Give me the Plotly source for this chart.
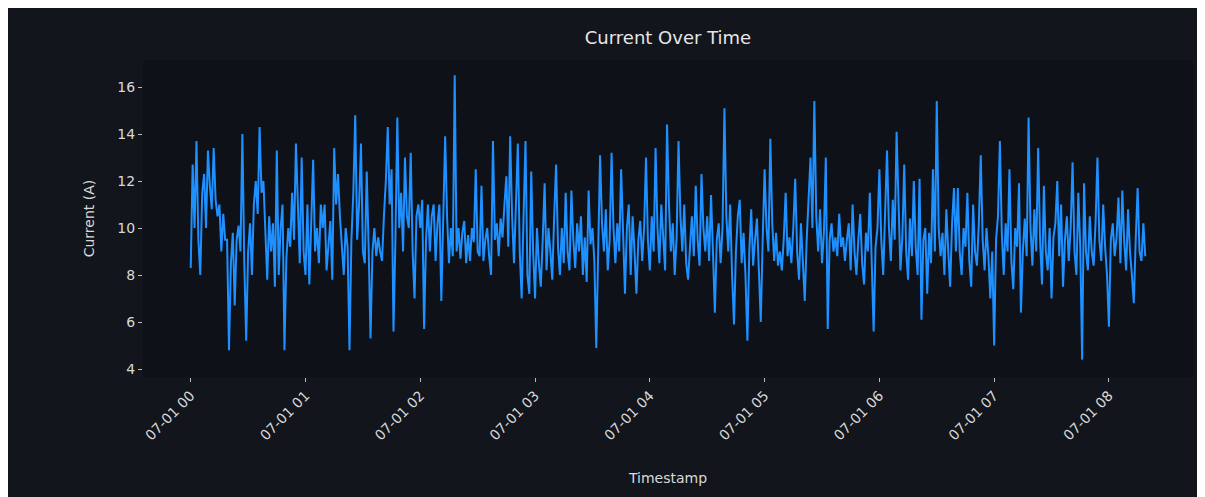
import pandas as pd
import plotly.graph_objects as go

# Current readings (A), one per minute starting 07-01 00:00
seg_a = [8.3, 12.7, 10.0, 13.7, 9.5, 8.0, 11.5, 12.3, 10.0, 13.3,
         11.8, 10.8, 13.4, 11.2, 10.5, 11.0, 9.0, 10.6, 9.5, 9.5,
         4.8, 8.5, 9.8, 6.7, 9.5, 10.1, 9.0, 14.0, 8.5, 5.2,
         9.0, 10.2, 8.0, 11.0, 12.0, 10.6, 14.3, 11.5, 12.0, 9.5,
         7.8, 10.5, 9.0, 10.2, 7.5, 13.3, 8.0, 10.0, 11.0, 4.8,
         8.7, 10.0, 9.2, 11.5, 9.5, 13.6, 10.5, 8.5]
seg_b = [13.0, 9.0, 8.0, 11.0, 7.6, 10.5, 12.9, 9.0, 10.0, 8.5,
         11.0, 10.0, 11.0, 8.2, 9.5, 10.3, 7.8, 13.4, 11.0, 12.3,
         10.5, 9.0, 8.0, 10.0, 9.2, 4.8, 9.5, 11.5, 14.8, 9.5,
         11.0, 13.6, 9.0, 8.5, 12.4, 9.2, 5.3, 9.0, 10.0, 8.8,
         9.6, 9.0, 8.6, 10.5, 12.0, 14.3, 11.0, 12.5, 5.6, 9.5,
         14.7, 10.0, 11.5, 9.0, 13.0, 10.5, 10.0]
seg_c = [13.2, 9.0, 7.0, 10.5, 11.0, 10.0, 11.2, 5.7, 9.5, 11.0,
         9.0, 10.5, 11.0, 8.6, 10.2, 11.0, 6.9, 10.0, 13.9, 10.5,
         8.5, 10.0, 8.8, 16.5, 9.0, 10.0, 8.7, 9.8, 10.3, 8.5,
         9.7, 8.6, 10.0, 9.4, 12.5, 9.0, 8.8, 11.8, 8.6, 9.5,
         10.0, 8.8, 8.0, 13.7, 9.5, 10.2, 8.8, 10.4, 9.6, 11.0,
         12.2, 9.2, 13.9, 10.5, 8.5, 11.0, 13.6, 9.0]
seg_d = [7.0, 10.5, 13.7, 8.0, 7.2, 12.4, 9.0, 7.0, 10.0, 8.5,
         7.5, 9.5, 11.9, 8.2, 10.0, 9.0, 7.8, 10.5, 12.7, 9.2,
         8.0, 10.0, 8.5, 11.5, 9.0, 8.2, 11.6, 9.5, 8.3, 10.2,
         9.0, 10.5, 8.0, 9.6, 7.7, 11.6, 9.3, 10.0, 8.6, 4.9,
         9.0, 13.1, 10.2, 9.0, 10.8, 8.2, 9.5, 13.2, 10.0, 8.5,
         10.2, 9.0, 12.5, 9.2, 7.2, 10.0, 11.0]
seg_e = [8.0, 10.5, 9.0, 7.2, 9.5, 10.3, 8.6, 10.0, 13.0, 9.5,
         8.2, 10.5, 9.0, 13.4, 10.0, 8.5, 11.0, 9.5, 8.2, 14.4,
         11.0, 9.0, 10.2, 8.0, 9.6, 13.7, 10.5, 9.0, 11.0, 8.5,
         7.8, 9.2, 10.5, 8.8, 11.8, 9.5, 8.4, 12.3, 10.0, 9.0,
         10.5, 8.6, 11.4, 9.0, 6.4, 9.5, 10.2, 8.5, 10.0, 15.1,
         10.5, 9.0, 11.0, 8.0, 5.9, 9.0, 10.5]
seg_f = [11.2, 8.5, 9.8, 8.0, 5.2, 9.0, 10.8, 8.4, 9.5, 10.4,
         8.2, 6.0, 9.5, 12.5, 10.0, 9.0, 13.8, 10.2, 8.6, 9.8,
         8.4, 9.0, 8.2, 9.5, 11.5, 8.8, 9.6, 8.5, 10.0, 12.1,
         9.0, 7.8, 10.2, 8.8, 6.9, 9.5, 11.0, 13.0, 10.0, 15.4,
         10.5, 9.0, 10.8, 8.5, 9.8, 13.0, 5.7, 9.5, 10.2, 9.0,
         9.6, 8.8, 10.6, 9.2, 9.6, 8.6, 9.5]
seg_g = [10.2, 8.2, 11.0, 9.0, 8.0, 9.5, 10.6, 8.5, 7.6, 9.8,
         9.0, 11.5, 8.4, 5.6, 9.2, 10.0, 12.5, 9.5, 8.0, 10.5,
         13.3, 10.0, 8.6, 11.2, 9.5, 14.1, 10.5, 8.2, 9.6, 12.7,
         9.0, 7.8, 10.4, 8.8, 12.0, 9.2, 8.0, 12.1, 6.1, 9.5,
         10.0, 7.2, 9.8, 8.5, 12.5, 9.0, 15.4, 10.0, 8.8, 9.8,
         8.0, 10.8, 9.0, 7.5, 10.2, 11.7, 9.0]
seg_h = [11.7, 9.0, 8.0, 10.0, 9.2, 11.5, 8.6, 7.5, 11.0, 9.0,
         8.4, 10.2, 13.1, 9.5, 8.2, 10.0, 8.8, 7.0, 9.0, 5.0,
         9.5, 10.5, 13.7, 9.8, 8.0, 10.2, 9.0, 12.5, 8.6, 7.4,
         10.0, 9.2, 11.9, 6.4, 9.0, 10.4, 8.8, 14.7, 10.0, 8.4,
         10.8, 9.0, 13.4, 9.5, 7.6, 11.8, 9.0, 8.2, 10.0, 7.0,
         9.6, 10.2, 12.0, 8.8, 11.0, 7.5, 9.5, 10.5]
seg_i = [8.6, 10.0, 12.8, 9.0, 8.0, 11.5, 9.2, 4.4, 11.9, 9.0,
         8.2, 10.5, 9.0, 8.4, 10.2, 13.0, 9.5, 8.6, 11.0, 9.2,
         8.0, 5.8, 9.5, 10.2, 8.8, 9.6, 11.3, 8.5, 11.6, 9.4,
         8.2, 10.8, 9.0, 8.0, 6.8, 9.5, 11.7, 9.0, 8.6, 10.2,
         8.8]

current = seg_a + seg_b + seg_c + seg_d + seg_e + seg_f + seg_g + seg_h + seg_i
timestamps = pd.date_range("2024-07-01 00:00", periods=len(current), freq="min")

y_ticks = [4, 6, 8, 10, 12, 14, 16]
title_text = "Current Over Time"
x_title = "Timestamp"
y_title = "Current (A)"

fig = go.Figure()
fig.add_trace(go.Scatter(x=timestamps, y=current, mode="lines",
                         line=dict(color="#1e90ff", width=2),
                         showlegend=False))

span = timestamps[-1] - timestamps[0]
x_range = [timestamps[0] - span * 0.05, timestamps[-1] + span * 0.05]

W, H = 1197, 489
txt = "#d9d9d9"
fig.update_layout(
    width=W, height=H,
    margin=dict(l=135, r=12, t=52, b=120),
    paper_bgcolor="#12151c",
    plot_bgcolor="#0e1117",
    font=dict(family="DejaVu Sans", color=txt, size=14),
    title=dict(text=title_text, x=0.5, xref="paper", xanchor="center",
               y=1 - 30 / H, yref="container", yanchor="middle",
               font=dict(size=18, color="#e6e6e6")),
    xaxis=dict(range=x_range, showgrid=False, zeroline=False,
               tickformat="%m-%d %H", dtick=3600000,
               tick0=timestamps[0],
               tickangle=-45, ticks="outside", ticklen=4, tickcolor="#bbbbbb",
               tickfont=dict(size=14, color=txt),
               title=dict(text=x_title, standoff=30, font=dict(size=14, color=txt)),
               showline=False),
    yaxis=dict(range=[3.66, 17.15], tickvals=y_ticks, showgrid=False,
               zeroline=False, ticks="outside", ticklen=4, tickcolor="#bbbbbb",
               tickfont=dict(size=14, color=txt),
               title=dict(text=y_title, standoff=19, font=dict(size=14, color=txt)),
               showline=False),
)

fig.write_html("out.html")
